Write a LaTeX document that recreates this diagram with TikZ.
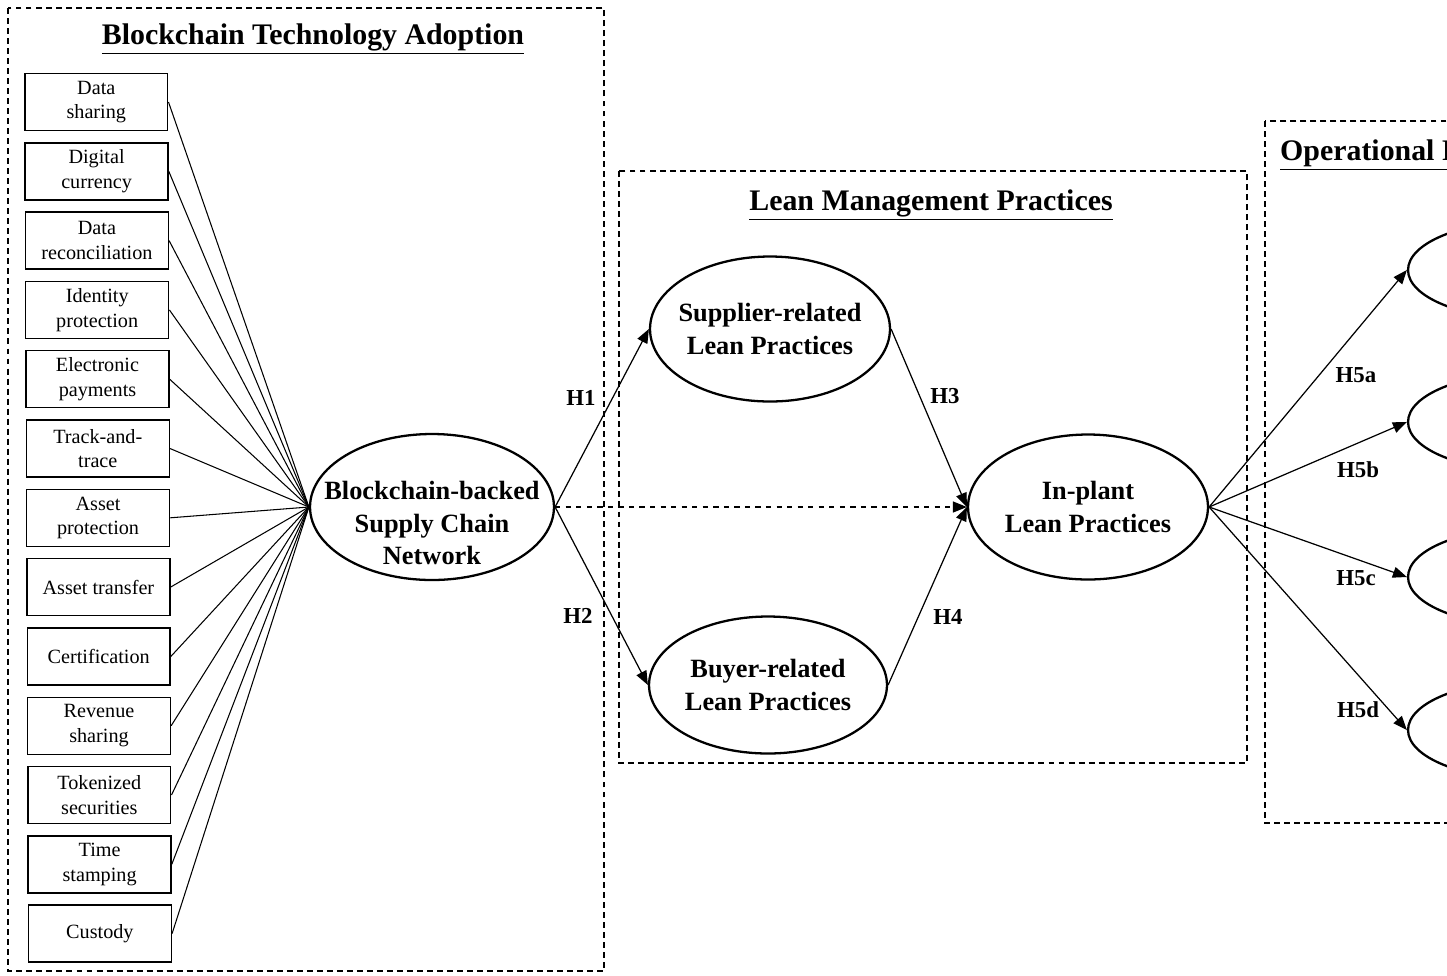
\documentclass[tikz,border=0pt]{standalone}
\usepackage{fontspec}
\setmainfont{Liberation Serif}
\usetikzlibrary{shapes.geometric, arrows.meta, positioning}

\tikzset{
  construct/.style={draw, line width=1.3pt, ellipse, minimum width=4.8cm, minimum height=2.9cm, inner xsep=-0.5cm, inner ysep=0pt, align=center, font=\fontsize{15}{18.5}\selectfont\bfseries},
  constructtext/.style={align=center, inner sep=0pt, font=\fontsize{15}{18.5}\selectfont\bfseries},
  indicator/.style={draw, line width=0.8pt, minimum width=2.86cm, minimum height=1.14cm, inner sep=1pt, align=center, font=\fontsize{11.5}{14}\selectfont},
  groupbox/.style={draw, line width=0.7pt, dash pattern=on 3.4pt off 2.3pt},
  heading/.style={font=\fontsize{17}{20}\selectfont\bfseries},
  hyp/.style={font=\fontsize{13}{15}\selectfont\bfseries},
  link/.style={line width=0.6pt},
  hyparrow/.style={-{Triangle[length=0.28cm,width=0.22cm]}, line width=0.7pt},
}

\begin{document}
\begin{tikzpicture}[x=0.02cm, y=-0.02cm]
      \useasboundingbox (0,0) rectangle (1447,975);
      \clip (0,0) rectangle (1447,975);
      % dashed groups
      \draw[groupbox] (8,8) rectangle (604,971);
      \draw[groupbox] (619,171) rectangle (1247,763);
      \draw[groupbox] (1265,121) rectangle (1520,823);
      \node[heading] (t1) at (313,39) {\underline{Blockchain Technology Adoption}};
      \node[heading] (t2) at (931,205) {\underline{Lean Management Practices}};
      \node[heading, anchor=west] (t3) at (1274,155) {\underline{Operational Performance}};
      % constructs
      \node[construct, minimum width=4.88cm, minimum height=2.92cm] (bcn) at (432,507) {};
      \node[constructtext] (bcntext) at (432,523) {Blockchain-backed\\Supply Chain\\Network};
      \node[construct] (slp) at (770,329) {Supplier-related\\Lean Practices};
      \node[construct, minimum width=4.76cm, minimum height=2.74cm] (blp) at (768,685) {Buyer-related\\Lean Practices};
      \node[construct] (ilp) at (1088,507) {In-plant\\Lean Practices};
      \foreach \y [count=\i] in {270,422,577,730}
        \node[construct, minimum height=1.96cm] (op\i) at (1528,\y) {};
      % blockchain applications
      \foreach \t [count=\i] in {Data\\sharing, Digital\\currency, Data\\reconciliation, Identity\\protection, Electronic\\payments, Track-and-\\trace, Asset\\protection, Asset transfer, Certification, Revenue\\sharing, Tokenized\\securities, Time\\stamping, Custody}
      {
        \node[indicator] (b\i) at ({96+0.3*\i}, {102+69.3*(\i-1)}) {\t};
        \draw[link] (b\i.east) -- (bcn.west);
      }
      % hypotheses
      \draw[hyparrow] (bcn.east) -- (slp.west);
      \draw[hyparrow] (bcn.east) -- (blp.west);
      \draw[hyparrow, dashed] (bcn.east) -- (ilp.west);
      \draw[hyparrow] (slp.east) -- (ilp.west);
      \draw[hyparrow] (blp.east) -- (ilp.west);
      \foreach \i in {1,...,4}
        \draw[hyparrow] (ilp.east) -- (op\i.west);
      \node[hyp] (h1) at (581,398) {H1};
      \node[hyp] (h2) at (578,616) {H2};
      \node[hyp] (h3) at (945,396) {H3};
      \node[hyp] (h4) at (948,617) {H4};
      \node[hyp] (h5a) at (1356,375) {H5a};
      \node[hyp] (h5b) at (1358,470) {H5b};
      \node[hyp] (h5c) at (1356,578) {H5c};
      \node[hyp] (h5d) at (1358,710) {H5d};
\end{tikzpicture}
\end{document}
